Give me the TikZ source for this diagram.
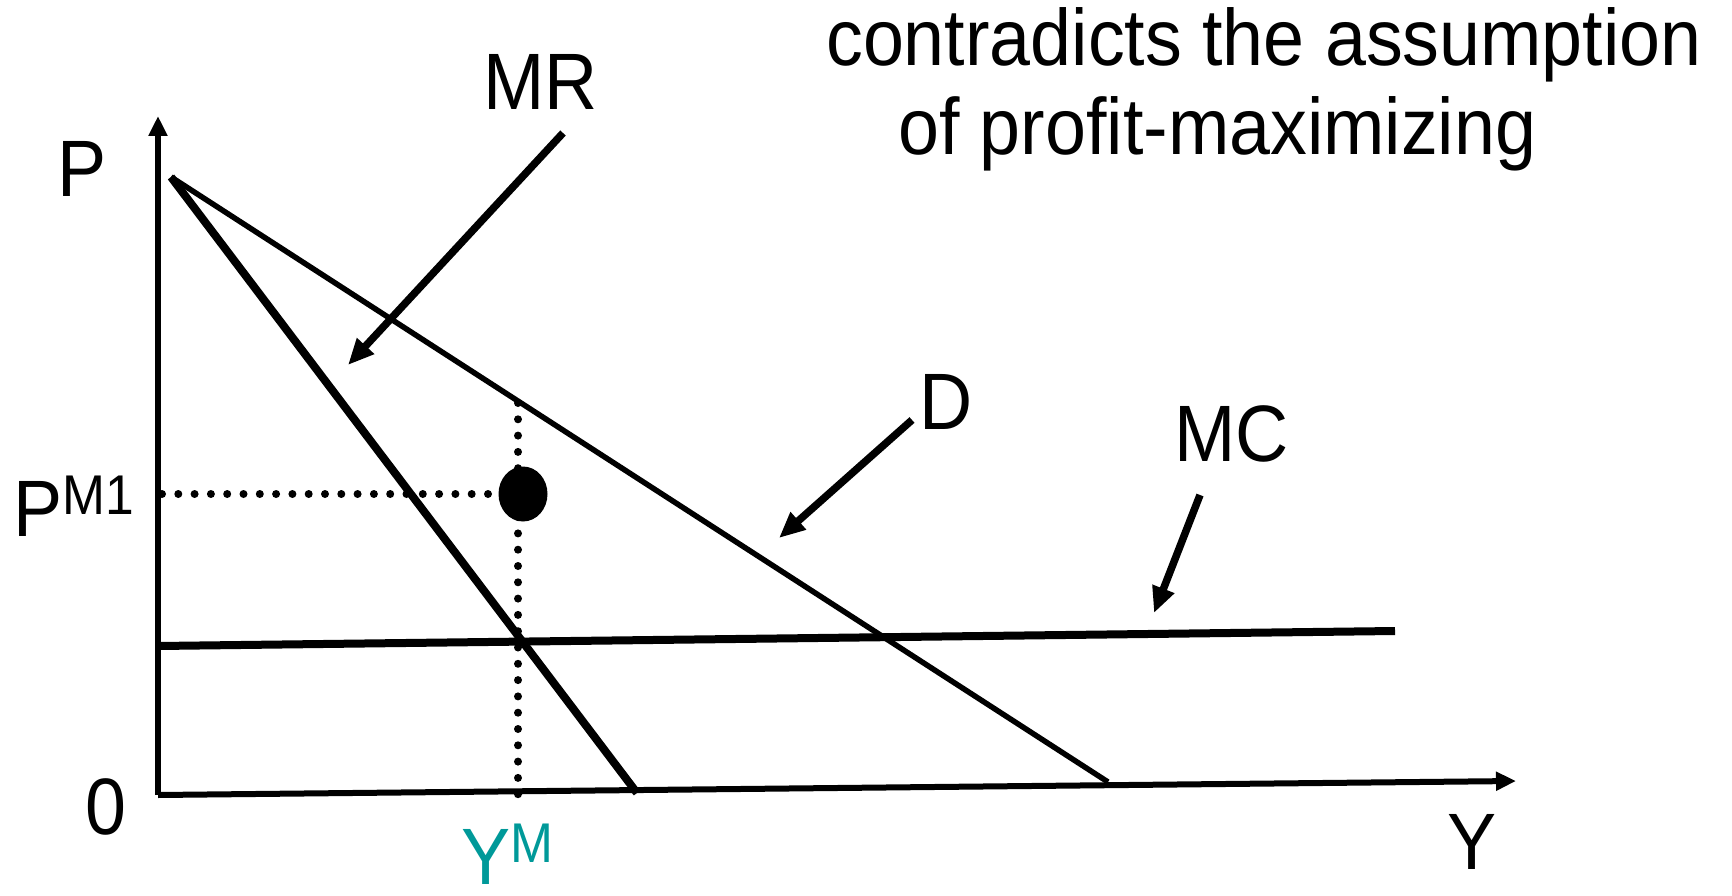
\documentclass[tikz,border=0pt]{standalone}
\usepackage{fontspec}
\setmainfont{Liberation Sans}[FakeStretch=0.92]
\usetikzlibrary{arrows.meta,shapes.geometric}
\definecolor{tealM}{HTML}{009999}
\newcommand{\mysup}[1]{\raisebox{22pt}{\fontsize{56}{58}\selectfont #1}}
\begin{document}
\begin{tikzpicture}[x=1pt,y=-1pt,
  axis/.style={line width=6pt},
  thick curve/.style={line width=8pt},
  demand/.style={line width=5.5pt},
  pointer/.style={line width=7.5pt,-{Triangle[length=26pt,width=22pt]}},
  lab/.style={font=\fontsize{80}{86}\selectfont, inner sep=0pt, anchor=base west},
  dots/.style={line width=8pt, line cap=round, dash pattern=on 0pt off 16.3pt}]
\useasboundingbox (0,0) rectangle (1732,896);
% coordinates
\coordinate (O) at (158,795);
\coordinate (ytop) at (158,116);
\coordinate (xend) at (1516,781);
\coordinate (top) at (171,177);
\coordinate (mrend) at (637,793);
\coordinate (dend) at (1108,782);
\coordinate (mcstart) at (158,646);
\coordinate (mcend) at (1395,631);
\coordinate (hd0) at (162,494);
\coordinate (hd1) at (500,494);
\coordinate (vd0) at (518,403);
\coordinate (vd1) at (518,798);
\coordinate (mra) at (563,133);
\coordinate (mrb) at (348,365);
\coordinate (da) at (912,420);
\coordinate (db) at (779,538);
\coordinate (mca) at (1200,495);
\coordinate (mcb) at (1154,613);
% dotted guides
\draw[dots] (hd0) -- (hd1);
\draw[dots] (vd0) -- (vd1);
% axes
\draw[axis,-{Triangle[length=20pt,width=18pt]}] (O) -- (ytop);
\draw[axis,-{Triangle[length=20pt,width=18pt]}] (O) -- (xend);
% curves
\draw[thick curve] (top) -- (mrend);
\draw[demand] (top) -- (dend);
\draw[thick curve] (mcstart) -- (mcend);
% point
\node[ellipse, fill=black, minimum width=49pt, minimum height=55pt, inner sep=0pt] (pt) at (523,494) {};
% pointers
\draw[pointer] (mra) -- (mrb);
\draw[pointer] (da) -- (db);
\draw[pointer] (mca) -- (mcb);
% labels
\node[lab] (lP) at (57,197) {P};
\node[lab] (lMR) at (483,110) {MR};
\node[lab] (lPM) at (13,536) {P\mysup{M1}};
\node[lab] (l0) at (85,834) {0};
\node[lab, text=tealM, text depth=0pt] (lYM) at (461,884) {Y\mysup{M}};
\node[lab] (lY) at (1447,869) {Y};
\node[lab] (lD) at (919,429) {D};
\node[lab] (lMC) at (1174,461) {MC};
\node[lab] (t1) at (826,66) {contradicts the assumption};
\node[lab] (t2) at (898,155) {of profit-maximizing};
\end{tikzpicture}
\end{document}
